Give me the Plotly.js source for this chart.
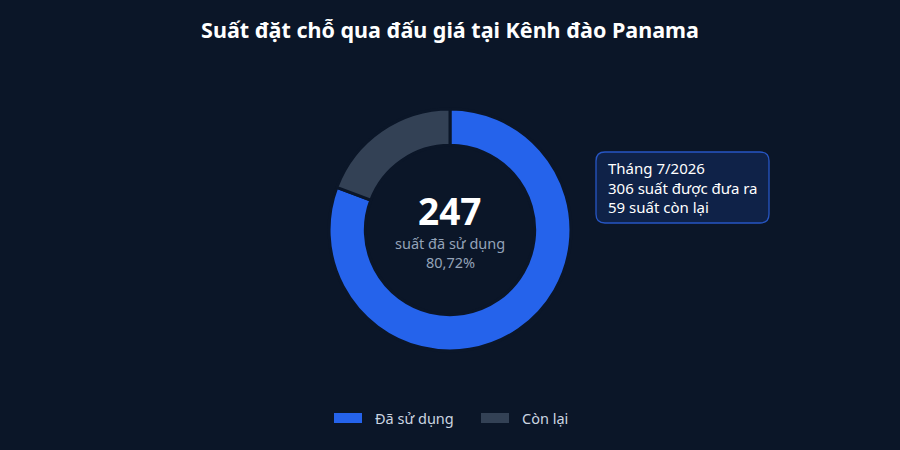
<!DOCTYPE html>
<html>
<head>
<meta charset="utf-8">
<script src="https://cdn.plot.ly/plotly-3.0.1.min.js"></script>
<style>
  html, body { margin: 0; padding: 0; background: #0b1628; }
  #graf { width: 900px; height: 450px; }
</style>
</head>
<body>
<div id="graf"></div>
<script>
var nhan = ['Đã sử dụng', 'Còn lại'];
var giaTri = [247, 59];
var mau = ['#2563eb', '#334155'];
var tongSo = 306;
var thang = 'Tháng 7/2026';

var nen = '#0b1628';
var W = 900, H = 450;

function px(x) { return x / W; }
function py(y) { return 1 - y / H; }

function hopBoGoc(x0, y0, x1, y1, r) {
    // hop bo goc, toa do pixel -> paper
    function a(x) { return px(x).toFixed(5); }
    function b(y) { return py(y).toFixed(5); }
    return 'M' + a(x0 + r) + ',' + b(y0) +
        ' L' + a(x1 - r) + ',' + b(y0) +
        ' Q' + a(x1) + ',' + b(y0) + ' ' + a(x1) + ',' + b(y0 + r) +
        ' L' + a(x1) + ',' + b(y1 - r) +
        ' Q' + a(x1) + ',' + b(y1) + ' ' + a(x1 - r) + ',' + b(y1) +
        ' L' + a(x0 + r) + ',' + b(y1) +
        ' Q' + a(x0) + ',' + b(y1) + ' ' + a(x0) + ',' + b(y1 - r) +
        ' L' + a(x0) + ',' + b(y0 + r) +
        ' Q' + a(x0) + ',' + b(y0) + ' ' + a(x0 + r) + ',' + b(y0) + ' Z';
}

var daDung = giaTri[0];
var conLai = giaTri[1];
var phanTram = (daDung / tongSo * 100).toFixed(2).replace('.', ',');

var trace1 = {
    type: 'pie',
    labels: nhan,
    values: giaTri,
    hole: 0.70,
    sort: false,
    direction: 'clockwise',
    rotation: 0,
    textinfo: 'none',
    hoverinfo: 'label+value',
    showlegend: false,
    marker: {
        colors: mau,
        line: { color: nen, width: 3 }
    },
    domain: { x: [0.3656, 0.6344], y: [0.2200, 0.7578] }
};

var hinh = [
    {
        type: 'path',
        xref: 'paper', yref: 'paper',
        path: hopBoGoc(596, 152, 769, 223, 9),
        fillcolor: '#0f2248',
        line: { color: '#2756c4', width: 1.3 }
    }
];

var ghiChu = [
    {
        text: '<b>' + daDung + '</b>',
        x: 0.5, y: py(210),
        xref: 'paper', yref: 'paper',
        showarrow: false,
        font: { size: 37, color: '#ffffff' }
    },
    {
        text: 'suất đã sử dụng',
        x: 0.5, y: py(243),
        xref: 'paper', yref: 'paper',
        showarrow: false,
        font: { size: 14.5, color: '#94a3b8' }
    },
    {
        text: phanTram + '%',
        x: 0.5, y: py(262),
        xref: 'paper', yref: 'paper',
        showarrow: false,
        font: { size: 14.5, color: '#94a3b8' }
    },
    {
        // o thong tin ben phai
        text: thang + '<br>' + tongSo + ' suất được đưa ra<br>' + conLai + ' suất còn lại',
        x: px(606), y: py(187),
        xref: 'paper', yref: 'paper',
        xanchor: 'left', yanchor: 'middle',
        align: 'left',
        showarrow: false,
        font: { size: 15, color: '#ffffff' }
    }
];

// chu giai tu ve
var chuGiaiX = [334, 481];
nhan.forEach(function (n, i) {
    hinh.push({
        type: 'rect',
        xref: 'paper', yref: 'paper',
        x0: px(chuGiaiX[i]), x1: px(chuGiaiX[i] + 28),
        y0: py(423), y1: py(413),
        fillcolor: mau[i],
        line: { width: 0 }
    });
    ghiChu.push({
        text: n,
        x: px(chuGiaiX[i] + 39), y: py(418),
        xref: 'paper', yref: 'paper',
        xanchor: 'left', yanchor: 'middle',
        showarrow: false,
        font: { size: 14.5, color: '#cbd5e1' }
    });
});

var layout = {
    width: 900,
    height: 450,
    paper_bgcolor: nen,
    plot_bgcolor: nen,
    margin: { l: 0, r: 0, t: 0, b: 0 },
    font: { family: 'Noto Sans, Open Sans, sans-serif', color: '#e2e8f0' },
    title: {
        text: '<b>Suất đặt chỗ qua đấu giá tại Kênh đào Panama</b>',
        font: { size: 21.5, color: '#ffffff' },
        x: 0.5, xanchor: 'center',
        y: py(30), yanchor: 'middle'
    },
    showlegend: false,
    shapes: hinh,
    annotations: ghiChu
};

Plotly.newPlot('graf', [trace1], layout, { displayModeBar: false, staticPlot: true });
</script>
</body>
</html>
